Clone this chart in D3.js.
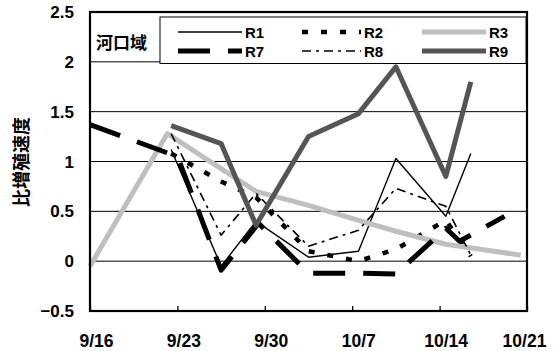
<!DOCTYPE html>
<html>
<head>
<meta charset="utf-8">
<script src="https://cdn.jsdelivr.net/npm/d3@7/dist/d3.min.js"></script>
<style>
  html, body { margin: 0; padding: 0; background: #fff; }
  svg { display: block; }
  text { font-family: "Liberation Sans", Arial, sans-serif; font-weight: bold; fill: #000; }
  .cjk { font-family: "Noto Sans CJK JP", "Noto Sans CJK SC", sans-serif; font-weight: bold; }
</style>
</head>
<body>
<svg id="chart" width="558" height="351"></svg>
<script>
// Sampling days, counted from 9/16
const days = [6.5, 10.5, 13.3, 17.5, 21.5, 24.5, 28.5, 30.5];
const daysR3 = [0, 6.2, 13.3, 17.5, 21.5, 24.5, 28.5, 34.5];
const daysR7 = [0, 7, 10.5, 13.5, 17.5, 21.5, 24.5, 28.5, 29.6, 33.2];

// Specific growth rate per station
const r1 = [1.12, -0.05, 0.40, 0.04, 0.10, 1.03, 0.45, 1.08];
const r2 = [1.08, 0.80, 0.64, 0.10, 0.00, 0.12, 0.41, 0.05];
const r3 = [-0.05, 1.28, 0.70, 0.56, 0.41, 0.30, 0.17, 0.06];
const r7 = [1.37, 1.05, -0.09, 0.38, -0.12, -0.12, -0.13, 0.33, 0.20, 0.45];
const r8 = [1.28, 0.26, 0.68, 0.15, 0.31, 0.73, 0.55, 0.06];
const r9 = [1.36, 1.18, 0.36, 1.25, 1.48, 1.95, 0.85, 1.80];

const xTickDays = [0, 7, 14, 21, 28, 35];
const xTickLabels = ["9/16", "9/23", "9/30", "10/7", "10/14", "10/21"];
const yTicks = [-0.5, 0, 0.5, 1, 1.5, 2, 2.5];
const areaLabel = "河口域";
const yTitle = "比増殖速度";

const series = [
  { name: "R1", x: days,   y: r1, color: "#000",    width: 1.4, dash: null },
  { name: "R2", x: days,   y: r2, color: "#000",    width: 4.5, dash: "6 13" },
  { name: "R3", x: daysR3, y: r3, color: "#bfbfbf", width: 5,   dash: null },
  { name: "R7", x: daysR7, y: r7, color: "#000",    width: 5,   dash: "32 18" },
  { name: "R8", x: days,   y: r8, color: "#000",    width: 1.6, dash: "9 5 3 5" },
  { name: "R9", x: days,   y: r9, color: "#555",    width: 5,   dash: null }
];

const svg = d3.select("#chart");
const L = 90, R = 527, T = 12, B = 311;

const x = d3.scaleLinear().domain([0, 35]).range([L, R]);
const y = d3.scaleLinear().domain([-0.5, 2.5]).range([B, T]);

// horizontal grid lines
svg.append("g").selectAll("line").data(yTicks).join("line")
  .attr("x1", L).attr("x2", R)
  .attr("y1", d => y(d)).attr("y2", d => y(d))
  .attr("stroke", "#000").attr("stroke-width", 1);

// y tick labels
const fmt = d => d < 0 ? "\u2212" + Math.abs(d) : String(d);
svg.append("g").selectAll("text").data(yTicks).join("text")
  .attr("x", 74).attr("y", d => y(d) + 6)
  .attr("text-anchor", "end").attr("font-size", 17)
  .text(fmt);

// bottom axis with inward ticks
const xAxis = d3.axisBottom(x).tickValues(xTickDays)
  .tickFormat((d, i) => xTickLabels[i]).tickSize(-5).tickSizeOuter(0);
const gx = svg.append("g").attr("transform", `translate(0,${B})`).call(xAxis);
gx.select(".domain").remove();
gx.selectAll(".tick line").attr("stroke", "#000").attr("stroke-width", 1.3);
gx.selectAll(".tick text")
  .attr("y", 36).attr("dy", 0)
  .attr("dx", (d, i) => i === xTickDays.length - 1 ? -3 : 6)
  .attr("font-size", 17.5)
  .style("font-family", "'Liberation Sans', Arial, sans-serif")
  .style("font-weight", "bold")
  .attr("fill", "#000");

// lines
const line = d3.line().x(d => x(d[0])).y(d => y(d[1]));
svg.append("g").selectAll("path").data(series).join("path")
  .attr("d", s => line(s.x.map((v, i) => [v, s.y[i]])))
  .attr("fill", "none")
  .attr("stroke", s => s.color)
  .attr("stroke-width", s => s.width)
  .attr("stroke-dasharray", s => s.dash)
  .attr("stroke-linejoin", "round");

// plot frame
svg.append("rect")
  .attr("x", L).attr("y", T).attr("width", R - L).attr("height", B - T)
  .attr("fill", "none").attr("stroke", "#000").attr("stroke-width", 2.2);

// region label
svg.append("text").attr("class", "cjk")
  .attr("x", 96).attr("y", 49).attr("font-size", 17)
  .text(areaLabel);

// legend
const lg = svg.append("g");
lg.append("rect").attr("x", 160).attr("y", 17).attr("width", 366).attr("height", 46.5)
  .attr("fill", "#fff").attr("stroke", "#000").attr("stroke-width", 1);
const colX = [178, 302, 422];
const colLen = [64, 59, 64];
const rowY = [32, 51];
series.forEach((s, i) => {
  const c = i % 3, r = Math.floor(i / 3);
  const x0 = colX[c], yy = rowY[r];
  lg.append("line")
    .attr("x1", x0).attr("x2", x0 + colLen[c])
    .attr("y1", yy).attr("y2", yy)
    .attr("stroke", s.color).attr("stroke-width", s.width)
    .attr("stroke-dasharray", s.dash);
  lg.append("text")
    .attr("x", x0 + colLen[c] + 3).attr("y", yy + 5.5)
    .attr("font-size", 15)
    .text(s.name);
});

// y axis title
svg.append("text").attr("class", "cjk")
  .attr("transform", "translate(28,162) rotate(-90)")
  .attr("text-anchor", "middle").attr("font-size", 18)
  .text(yTitle);
</script>
</body>
</html>
